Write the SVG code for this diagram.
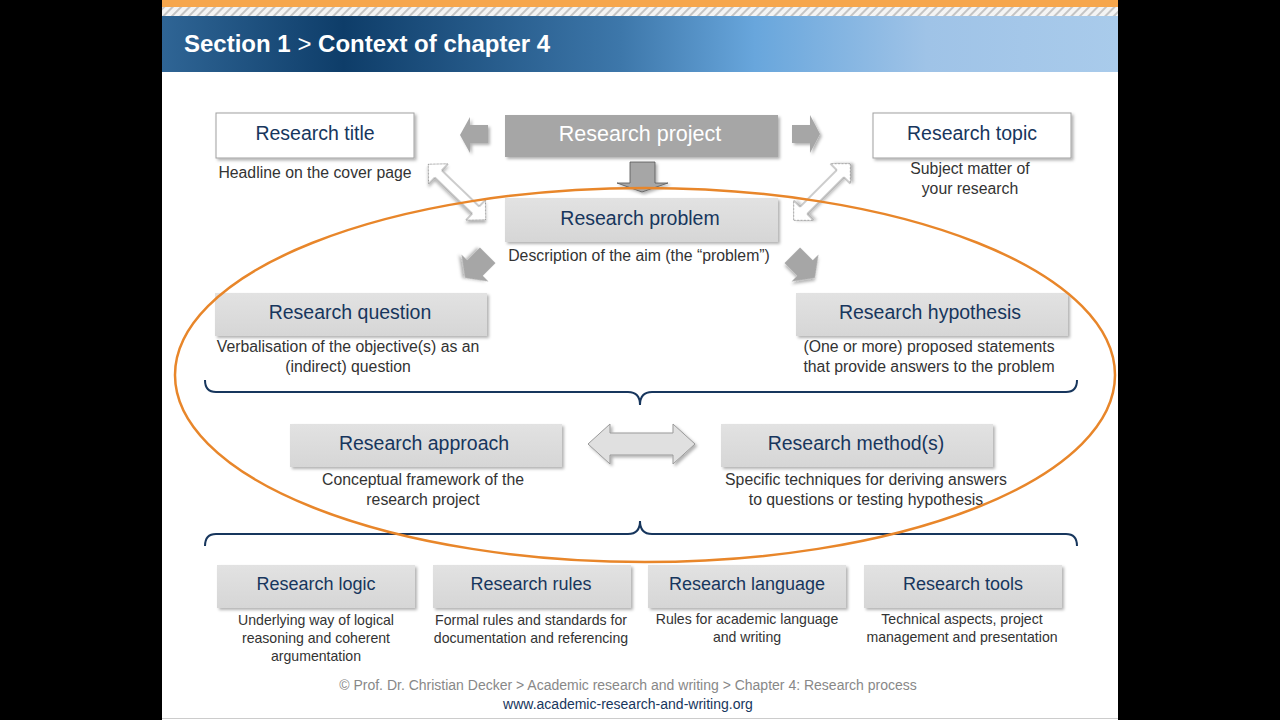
<svg xmlns="http://www.w3.org/2000/svg" width="1280" height="720" viewBox="0 0 1280 720">
<defs>
<linearGradient id="hdr" x1="0" y1="0" x2="1" y2="0">
<stop offset="0" stop-color="#2f6595"/>
<stop offset="0.19" stop-color="#0e3d69"/>
<stop offset="0.48" stop-color="#3d77aa"/>
<stop offset="0.62" stop-color="#68a6dc"/>
<stop offset="0.8" stop-color="#9fc3e7"/>
<stop offset="1" stop-color="#a9cbeb"/>
</linearGradient>
<linearGradient id="box" x1="0" y1="0" x2="0" y2="1">
<stop offset="0" stop-color="#e2e2e2"/>
<stop offset="1" stop-color="#d6d6d6"/>
</linearGradient>
<pattern id="hatch" width="6" height="6" patternUnits="userSpaceOnUse" patternTransform="rotate(45)">
<rect width="6" height="6" fill="#f4f4f4"/>
<rect width="2" height="6" fill="#c4c4c4"/>
</pattern>
<filter id="sh" x="-10%" y="-10%" width="130%" height="140%">
<feDropShadow dx="2" dy="2" stdDeviation="1.5" flood-color="#000" flood-opacity="0.3"/>
</filter>
<style>
.t{font-family:"Liberation Sans",Arial,sans-serif;fill:#17365d;text-anchor:middle}
.t19{font-size:19.5px}
.t18{font-size:18px}
.d{font-family:"Liberation Sans",Arial,sans-serif;fill:#333;text-anchor:middle;font-size:15.8px}
.d14{font-family:"Liberation Sans",Arial,sans-serif;fill:#333;text-anchor:middle;font-size:14.1px}
.g{fill:url(#box);filter:url(#sh)}
.w{fill:#fff;stroke:#a0a0a0;stroke-width:1;filter:url(#sh)}
.arr{fill:#a6a6a6;filter:url(#sh)}
.oarr{fill:#fff;stroke:#999;stroke-width:1;filter:url(#sh)}
.brace{fill:none;stroke:#17365d;stroke-width:2}
.f{font-family:"Liberation Sans",Arial,sans-serif;font-size:14px;text-anchor:middle}
</style>
</defs>
<rect width="1280" height="720" fill="#000"/>
<rect x="162" y="0" width="956" height="720" fill="#fff"/>
<rect x="162" y="0" width="956" height="7" fill="#f6a64c"/>
<rect x="162" y="7" width="956" height="9" fill="url(#hatch)"/>
<rect x="162" y="16" width="956" height="56" fill="url(#hdr)"/>
<text x="184" y="52" font-family="Liberation Sans,Arial,sans-serif" font-size="24" fill="#fff" font-weight="bold">Section 1 <tspan font-weight="normal">&gt;</tspan> Context of chapter 4</text>

<g id="connectors">
<polygon class="arr" points="488,125 470,125 470,117 460,135 470,153 470,143 488,143"/>
<polygon class="arr" points="792,125 810,125 810,115 820,134 810,153 810,143 792,143"/>
<polygon class="arr" stroke="#555" stroke-width="0.8" points="630,162 655,162 655,183 668,183 642,192 617,183 630,183"/>
<polygon class="oarr" transform="translate(457,192) rotate(44)" points="-40,0 -26,-14 -26,-5 26,-5 26,-14 40,0 26,14 26,5 -26,5 -26,14"/>
<polygon class="oarr" transform="translate(822,192) rotate(-45)" points="-40,0 -26,-14 -26,-5 26,-5 26,-14 40,0 26,14 26,5 -26,5 -26,14"/>
<polygon class="arr" transform="translate(475,268) rotate(135)" points="14,0 0,19 0,11 -18,11 -18,-11 0,-11 0,-19"/>
<polygon class="arr" transform="translate(805,268) rotate(45)" points="14,0 0,19 0,11 -18,11 -18,-11 0,-11 0,-19"/>
<polygon fill="#e0e0e0" stroke="#999" stroke-width="1" filter="url(#sh)" points="588,444 610,424 610,433 673,433 673,424 695,444 673,464 673,455 610,455 610,464"/>
<path class="brace" d="M205,380 Q205,392 216,392 L628,392 Q640,392 640,405 Q640,392 652,392 L1066,392 Q1077,392 1077,380"/>
<path class="brace" d="M205,546 Q205,534 216,534 L628,534 Q640,534 640,521 Q640,534 652,534 L1066,534 Q1077,534 1077,546"/>
</g>

<g id="research-title">
<rect class="w" x="216" y="113" width="198" height="45"/>
<text class="t t19" x="315" y="140">Research title</text>
<text class="d" x="315" y="178">Headline on the cover page</text>
</g>
<g id="research-project">
<rect x="505" y="115" width="273" height="42" fill="#a6a6a6" filter="url(#sh)"/>
<text class="t" x="640" y="141" font-size="21.5" style="fill:#fff">Research project</text>
</g>
<g id="research-topic">
<rect class="w" x="873" y="113" width="198" height="45"/>
<text class="t t19" x="972" y="140">Research topic</text>
<text class="d" x="970" y="174">Subject matter of</text>
<text class="d" x="970" y="194">your research</text>
</g>
<g id="research-problem">
<rect class="g" x="505" y="198" width="273" height="44"/>
<text class="t t19" x="640" y="225">Research problem</text>
<text class="d" x="639" y="261">Description of the aim (the “problem”)</text>
</g>
<g id="research-question">
<rect class="g" x="215" y="293" width="272" height="43"/>
<text class="t t19" x="350" y="319">Research question</text>
<text class="d" x="348" y="352">Verbalisation of the objective(s) as an</text>
<text class="d" x="348" y="372">(indirect) question</text>
</g>
<g id="research-hypothesis">
<rect class="g" x="796" y="293" width="272" height="43"/>
<text class="t t19" x="930" y="319">Research hypothesis</text>
<text class="d" x="929" y="352">(One or more) proposed statements</text>
<text class="d" x="929" y="372">that provide answers to the problem</text>
</g>
<g id="research-approach">
<rect class="g" x="290" y="424" width="272" height="43"/>
<text class="t t19" x="424" y="450">Research approach</text>
<text class="d" x="423" y="485">Conceptual framework of the</text>
<text class="d" x="423" y="505">research project</text>
</g>
<g id="research-methods">
<rect class="g" x="721" y="424" width="272" height="43"/>
<text class="t t19" x="856" y="450">Research method(s)</text>
<text class="d" x="866" y="485">Specific techniques for deriving answers</text>
<text class="d" x="866" y="505">to questions or testing hypothesis</text>
</g>
<g id="research-logic">
<rect class="g" x="217" y="565" width="198" height="43"/>
<text class="t t18" x="316" y="590">Research logic</text>
<text class="d14" x="316" y="625">Underlying way of logical</text>
<text class="d14" x="316" y="643">reasoning and coherent</text>
<text class="d14" x="316" y="661">argumentation</text>
</g>
<g id="research-rules">
<rect class="g" x="433" y="565" width="198" height="43"/>
<text class="t t18" x="531" y="590">Research rules</text>
<text class="d14" x="531" y="625">Formal rules and standards for</text>
<text class="d14" x="531" y="643">documentation and referencing</text>
</g>
<g id="research-language">
<rect class="g" x="648" y="565" width="198" height="43"/>
<text class="t t18" x="747" y="590">Research language</text>
<text class="d14" x="747" y="624">Rules for academic language</text>
<text class="d14" x="747" y="642">and writing</text>
</g>
<g id="research-tools">
<rect class="g" x="864" y="565" width="198" height="43"/>
<text class="t t18" x="963" y="590">Research tools</text>
<text class="d14" x="962" y="624">Technical aspects, project</text>
<text class="d14" x="962" y="642">management and presentation</text>
</g>

<ellipse cx="645" cy="375" rx="470" ry="187" fill="none" stroke="#e8862a" stroke-width="2.5"/>

<text class="f" x="628" y="690" fill="#888">© Prof. Dr. Christian Decker &gt; Academic research and writing &gt; Chapter 4: Research process</text>
<text class="f" x="628" y="709" fill="#17365d">www.academic-research-and-writing.org</text>
<line x1="162" y1="718.5" x2="1118" y2="718.5" stroke="#ccc" stroke-width="1"/>
</svg>
